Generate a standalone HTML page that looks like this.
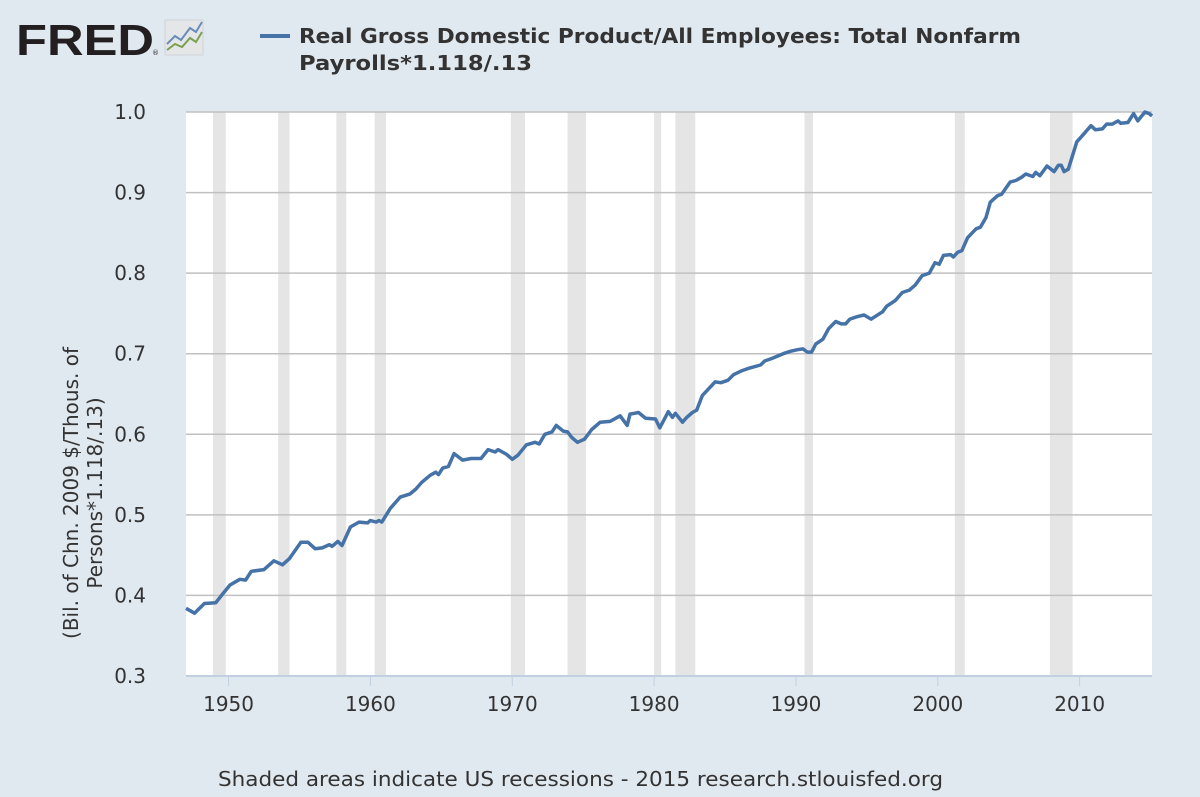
<!DOCTYPE html>
<html><head><meta charset="utf-8"><style>
html,body{margin:0;padding:0;background:#e1e9f0;}
svg{display:block;font-family:"DejaVu Sans","Liberation Sans",sans-serif;}
</style></head><body>
<svg id="chart" width="1200" height="797" viewBox="0 0 1200 797" xmlns="http://www.w3.org/2000/svg">
<rect x="0" y="0" width="1200" height="797" fill="#e1e9f0"/>
<g>
<text x="16" y="55" font-family="Liberation Sans, sans-serif" font-weight="bold" font-size="44" fill="#231f20" textLength="138" lengthAdjust="spacingAndGlyphs">FRED</text>
<text x="152" y="55" font-size="7" fill="#231f20">®</text>
<rect x="165" y="20" width="38" height="35" fill="#e4e6e8" stroke="#d0d4d8"/>
<polyline points="167,44 175,36 181,40 190,28 196,32 202,22" fill="none" stroke="#6a8cb8" stroke-width="2"/>
<polyline points="167,50 175,44 182,47 190,38 196,42 202,32" fill="none" stroke="#7aa050" stroke-width="2"/>
</g>
<g>
<line x1="260" y1="36" x2="290" y2="36" stroke="#4572a7" stroke-width="4"/>
<text x="299" y="43" font-weight="bold" font-size="20" fill="#333" textLength="722" lengthAdjust="spacingAndGlyphs">Real Gross Domestic Product/All Employees: Total Nonfarm</text>
<text x="299" y="70" font-weight="bold" font-size="20" fill="#333" textLength="233" lengthAdjust="spacingAndGlyphs">Payrolls*1.118/.13</text>
</g>
<rect x="186" y="112" width="966" height="564" fill="#ffffff"/>
<g id="recessions"></g>
<g id="grid"></g>
<g id="xaxis"></g>
<g id="yaxis"></g>
<g id="series"></g>
<text transform="translate(78,493) rotate(-90)" text-anchor="middle" font-size="20" fill="#333"><tspan x="0" y="0">(Bil. of Chn. 2009 $/Thous. of</tspan><tspan x="0" y="24">Persons*1.118/.13)</tspan></text>
<text x="218" y="786" font-size="20" fill="#333" textLength="725" lengthAdjust="spacingAndGlyphs">Shaded areas indicate US recessions - 2015 research.stlouisfed.org</text>
</svg>
<script>
const years=[1947.0,1947.6,1948.3,1949.1,1949.5,1950.1,1950.8,1951.2,1951.6,1952.5,1953.2,1953.8,1954.3,1955.1,1955.6,1956.1,1956.6,1957.1,1957.3,1957.7,1958.0,1958.6,1959.2,1959.8,1960.0,1960.4,1960.6,1960.8,1961.4,1962.1,1962.8,1963.2,1963.6,1964.2,1964.6,1964.8,1965.1,1965.5,1965.9,1966.5,1967.1,1967.8,1968.3,1968.8,1969.0,1969.6,1970.0,1970.4,1971.0,1971.6,1971.9,1972.3,1972.8,1973.1,1973.6,1973.9,1974.2,1974.6,1975.1,1975.6,1976.2,1976.9,1977.6,1978.1,1978.3,1978.9,1979.4,1980.1,1980.4,1981.0,1981.3,1981.5,1982.0,1982.3,1982.7,1983.0,1983.4,1984.3,1984.7,1985.2,1985.6,1986.2,1986.7,1987.5,1987.8,1988.3,1989.1,1989.6,1990.1,1990.5,1990.8,1991.1,1991.4,1991.9,1992.3,1992.8,1993.2,1993.5,1993.8,1994.3,1994.8,1995.3,1996.1,1996.4,1997.0,1997.5,1998.0,1998.4,1998.9,1999.4,1999.8,2000.1,2000.4,2000.9,2001.1,2001.4,2001.7,2002.1,2002.7,2003.0,2003.4,2003.7,2004.2,2004.5,2005.1,2005.5,2005.9,2006.2,2006.7,2006.9,2007.2,2007.7,2008.2,2008.5,2008.7,2008.9,2009.2,2009.8,2010.2,2010.8,2011.1,2011.6,2011.9,2012.3,2012.7,2012.9,2013.4,2013.8,2014.1,2014.6,2014.9,2015.1];
const values=[0.384,0.378,0.390,0.391,0.400,0.413,0.420,0.419,0.430,0.432,0.443,0.438,0.446,0.466,0.466,0.458,0.459,0.463,0.461,0.467,0.462,0.485,0.491,0.490,0.493,0.491,0.493,0.491,0.508,0.522,0.526,0.532,0.540,0.549,0.553,0.550,0.558,0.560,0.576,0.568,0.570,0.570,0.581,0.578,0.581,0.575,0.569,0.574,0.587,0.590,0.588,0.600,0.603,0.611,0.604,0.603,0.596,0.590,0.594,0.606,0.615,0.616,0.623,0.611,0.625,0.627,0.620,0.619,0.608,0.628,0.621,0.626,0.615,0.621,0.627,0.630,0.648,0.665,0.664,0.667,0.674,0.679,0.682,0.686,0.691,0.694,0.700,0.703,0.705,0.706,0.702,0.702,0.712,0.718,0.731,0.740,0.737,0.737,0.743,0.746,0.748,0.743,0.752,0.759,0.766,0.776,0.779,0.785,0.797,0.800,0.813,0.811,0.822,0.823,0.820,0.826,0.828,0.844,0.855,0.857,0.869,0.888,0.896,0.898,0.913,0.915,0.919,0.923,0.920,0.925,0.921,0.933,0.926,0.934,0.934,0.926,0.929,0.963,0.971,0.983,0.978,0.979,0.985,0.985,0.989,0.986,0.987,0.998,0.989,1.000,0.998,0.995];
const recStart=[1948.9,1953.5,1957.6,1960.3,1969.9,1973.9,1980.0,1981.5,1990.6,2001.2,2007.9];
const recEnd=[1949.8,1954.3,1958.3,1961.1,1970.9,1975.2,1980.5,1982.9,1991.2,2001.9,2009.5];
const xTicks=[1950,1960,1970,1980,1990,2000,2010];
const yTicks=[0.3,0.4,0.5,0.6,0.7,0.8,0.9,1.0];
const X0=186,X1=1152,Y0=676,Y1=112,xMin=1947.0,xMax=2015.1,yMin=0.3,yMax=1.0;
const NS='http://www.w3.org/2000/svg';
function xs(v){return X0+(v-xMin)/(xMax-xMin)*(X1-X0);}
function ys(v){return Y0-(v-yMin)/(yMax-yMin)*(Y0-Y1);}
function mk(tag,attrs,parent){const e=document.createElementNS(NS,tag);for(const k in attrs)e.setAttribute(k,attrs[k]);parent.appendChild(e);return e;}
const rg=document.getElementById('recessions');
recStart.forEach((s,i)=>{const r=mk('rect',{x:xs(s),y:Y1,width:xs(recEnd[i])-xs(s),height:Y0-Y1,fill:'#e5e5e5'},rg);

});
const gg=document.getElementById('grid');
yTicks.forEach(t=>{const l=mk('line',{x1:X0,x2:X1,y1:ys(t),y2:ys(t),stroke:'#c0c0c0','stroke-width':1.5},gg);

});
const yg=document.getElementById('yaxis');
yTicks.forEach(t=>{const tx=mk('text',{x:146,y:ys(t)+7,'text-anchor':'end','font-size':20,fill:'#333'},yg);tx.textContent=t.toFixed(1);

});
const xg=document.getElementById('xaxis');
const ax=mk('line',{x1:X0,x2:X1,y1:Y0,y2:Y0,stroke:'#c0d0e0','stroke-width':2},xg);


xTicks.forEach(t=>{const l=mk('line',{x1:xs(t),x2:xs(t),y1:Y0,y2:Y0+10,stroke:'#c0d0e0','stroke-width':1},xg);


const tx=mk('text',{x:xs(t),y:Y0+35,'text-anchor':'middle','font-size':20,fill:'#333'},xg);tx.textContent=t;

});
const sg=document.getElementById('series');
const pts=years.map((y,i)=>xs(y).toFixed(1)+','+ys(values[i]).toFixed(1)).join(' ');
const pl=mk('polyline',{points:pts,fill:'none',stroke:'#4572a7','stroke-width':3.5,'stroke-linejoin':'round'},sg);


</script>
</body></html>
